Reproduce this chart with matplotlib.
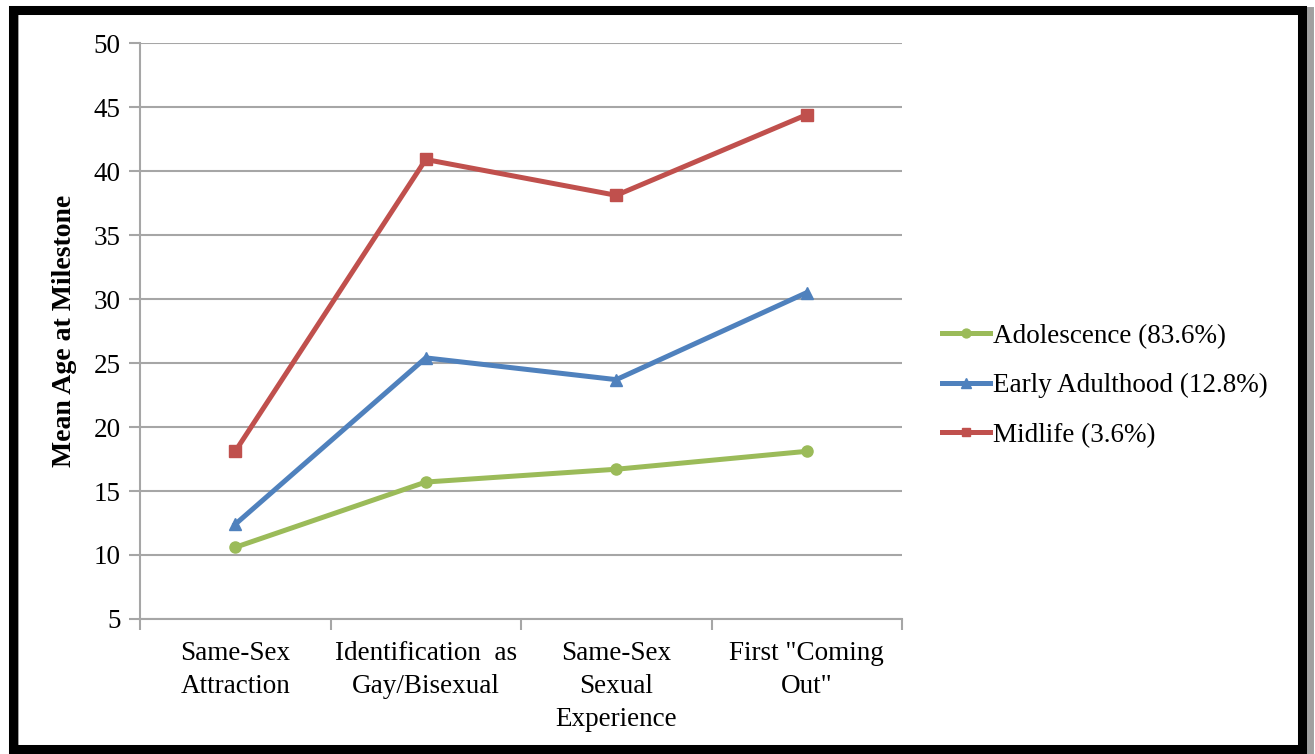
import matplotlib.pyplot as plt
from matplotlib.patches import Rectangle

plt.rcParams['font.family'] = ['Liberation Serif', 'DejaVu Serif']

# milestones and mean ages per group
milestones = ['Same-Sex\nAttraction', 'Identification  as\nGay/Bisexual',
              'Same-Sex\nSexual\nExperience', 'First "Coming\nOut"']
adolescence = [10.6, 15.7, 16.7, 18.1]
early_adult = [12.4, 25.4, 23.7, 30.5]
midlife = [18.1, 40.9, 38.1, 44.4]
labels = ['Adolescence (83.6%)', 'Early Adulthood (12.8%)', 'Midlife (3.6%)']
yticks = list(range(5, 55, 5))

W, H = 1315, 754
fig = plt.figure(figsize=(W / 100, H / 100), dpi=100)
ax = fig.add_axes([140 / W, 1 - 619 / H, 762 / W, 576 / H])

x = range(len(milestones))
ax.plot(x, adolescence, color='#9bbb59', lw=3.6, marker='o', ms=8, label=labels[0])
ax.plot(x, early_adult, color='#4f81bd', lw=3.6, marker='^', ms=9, label=labels[1])
ax.plot(x, midlife, color='#c0504d', lw=3.6, marker='s', ms=8, label=labels[2])

ax.set_xlim(-0.5, len(milestones) - 0.5)
ax.set_ylim(5, 50)
ax.set_yticks(yticks)
ax.set_yticklabels([str(v) for v in yticks], fontsize=19.5)
ax.yaxis.grid(True, color='#a6a6a6', lw=1.5)
ax.set_axisbelow(True)

# category labels centred, tick marks on category boundaries
ax.set_xticks([i - 0.5 for i in range(len(milestones) + 1)])
ax.set_xticklabels([''] * (len(milestones) + 1))
ax.set_xticks(list(x), minor=True)
ax.set_xticklabels(milestones, minor=True, fontsize=19.5, linespacing=1.42)
ax.tick_params(axis='x', which='minor', length=0, pad=16)
ax.tick_params(axis='x', which='major', length=8, color='#a6a6a6', width=1.5)
ax.tick_params(axis='y', length=8, color='#a6a6a6', width=1.5, pad=6)

for s in ['top', 'right']:
    ax.spines[s].set_visible(False)
for s in ['left', 'bottom']:
    ax.spines[s].set_color('#a6a6a6')
    ax.spines[s].set_linewidth(1.5)

ax.set_ylabel('Mean Age at Milestone', fontsize=20, fontweight='bold', labelpad=12)

ax.legend(loc='center left', bbox_to_anchor=(1.02, 0.405), frameon=False,
          fontsize=19.5, handlelength=1.8, handletextpad=0.1, labelspacing=0.9,
          markerscale=0.8)

# black frame around the whole chart with a light shadow
fig.patches.append(Rectangle((15 / W, 1 - 752 / H), 1295 / W, 742 / H,
                             transform=fig.transFigure, fill=False,
                             ec='#a0a0a0', lw=5))
fig.patches.append(Rectangle((12.5 / W, 1 - 749 / H), 1289.5 / W, 739 / H,
                             transform=fig.transFigure, fill=False,
                             ec='black', lw=6.5))

fig.savefig('out.png', dpi=100)
